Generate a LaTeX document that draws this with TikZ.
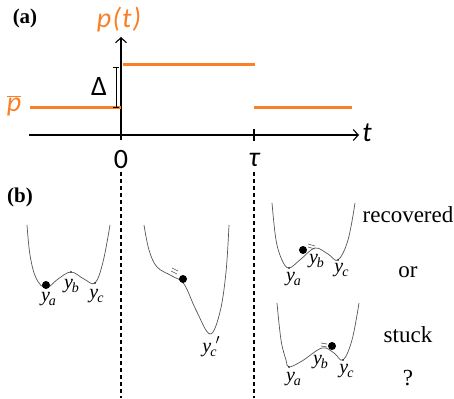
\documentclass[tikz,border=0pt]{standalone}
\usepackage{fontspec}
\setmainfont{Liberation Serif}
\newfontfamily\calfont{Carlito}
\usetikzlibrary{arrows.meta}

\definecolor{porange}{RGB}{250,128,40}
\definecolor{wellgray}{RGB}{85,85,85}

\newcommand\ylab[2][]{\textit{y}\kern-1pt\raisebox{-0.4ex}{\fontsize{14}{14}\selectfont\textit{#2}}\kern-1pt\raisebox{0.9ex}{\fontsize{14}{14}\selectfont#1}}

\begin{document}
\begin{tikzpicture}[
  x=1pt, y=-1pt,
  taxis/.style={line width=1.1pt, -{Straight Barb[length=5pt, width=11pt]}},
  plevel/.style={porange, line width=3pt},
  guide/.style={line width=1.1pt, dash pattern=on 4pt off 3pt},
  well/.style={wellgray, line width=0.7pt},
  ball/.style={circle, fill=black, inner sep=0pt, minimum size=8pt},
  extr/.style={circle, fill=black, inner sep=0pt, minimum size=1.8pt},
  motion/.style={wellgray, line width=0.6pt},
  panel/.style={font=\fontsize{21}{21}\selectfont\bfseries},
  sflab/.style={font=\fontsize{28}{28}\selectfont\calfont},
  ylb/.style={font=\fontsize{20}{20}\selectfont, inner sep=0pt},
  fate/.style={font=\fontsize{23}{23}\selectfont},
]
\useasboundingbox (0,0) rectangle (454,398);

%% ═══ (a) pulse ═══════════════════════════════════════════════
\node[panel] (pa) at (25,18) {(a)};

\coordinate (tleft) at (29,135);
\coordinate (tend)  at (359,135);
\coordinate (pbot)  at (121,140);
\coordinate (ptop)  at (121,37);
\draw[taxis] (tleft) -- (tend);
\draw[taxis] (pbot) -- (ptop);

\node[sflab, porange] (plab) at (119,20) {\itshape p\kern1.5pt(\kern1pt t\kern1pt)};
\node[sflab, porange] (pbar) at (14,106) {$\overline{\mbox{\itshape p}}$};
\node[sflab] (tlab) at (367,133) {\itshape t};

% orange levels
\coordinate (lowL)  at (30,108);
\coordinate (lowR)  at (121,108);
\coordinate (highL) at (123,65);
\coordinate (highR) at (255,65);
\coordinate (backL) at (254,108);
\coordinate (backR) at (352,108);
\draw[plevel] (lowL) -- (lowR);
\draw[plevel] (highL) -- (highR);
\draw[plevel] (backL) -- (backR);

% jump size
\coordinate (dtop) at (116,67);
\coordinate (dbot) at (116,108);
\draw[line width=1pt, {Bar[width=6pt]}-{Bar[width=6pt]}] (dtop) -- (dbot);
\node[sflab] (dlab) at (99,87) {Δ};

% ticks
\coordinate (tautop) at (254,129);
\coordinate (taubot) at (254,141);
\draw[line width=1.1pt] (tautop) -- (taubot);
\node[sflab] (zero) at (121,160) {0};
\node[sflab] (tau)  at (254,160) {\itshape τ};

% time guides
\coordinate (g0a) at (121,172);
\coordinate (g0b) at (121,398);
\coordinate (g1a) at (254,172);
\coordinate (g1b) at (254,398);
\draw[guide] (g0a) -- (g0b);
\draw[guide] (g1a) -- (g1b);

%% ═══ (b) landscapes ══════════════════════════════════════════
\node[panel] (pb) at (20,197) {(b)};

% before the pulse
\draw[well] plot[smooth, tension=0.6] coordinates
  {(27,225) (30,255) (36,278) (46,288) (58,279) (71,272) (84,279) (95,283) (103,262) (110,225)};
\node[extr] at (71,272) {};
\node[extr] at (95,283) {};
\node[ball] (b1) at (46,285) {};
\node[ylb] (ya1) at (48,299) {\ylab{a}};
\node[ylb] (yb1) at (71,286) {\ylab{b}};
\node[ylb] (yc1) at (96,296) {\ylab{c}};

% during the pulse
\draw[well] plot[smooth, tension=0.6] coordinates
  {(144,225) (149,250) (157,267) (172,276) (184,284) (196,310) (210,334) (220,312) (226,272) (229,225)};
\node[ball] (b2) at (183,279) {};
\draw[motion] (172,268) -- (178,271);
\draw[motion] (171,271) -- (177,274);
\node[ylb] (yc2) at (211,347) {\ylab[$\prime$]{c}};

% after: recovered
\draw[well] plot[smooth, tension=0.6] coordinates
  {(272,203) (276,240) (282,260) (289,268) (301,259) (315,248) (328,254) (338,260) (348,240) (355,203)};
\node[extr] at (289,268) {};
\node[extr] at (338,260) {};
\node[ball] (b3) at (303,250) {};
\draw[motion] (308,244) -- (315,246);
\draw[motion] (308,247) -- (315,249);
\node[ylb] (ya3) at (293,279) {\ylab{a}};
\node[ylb] (yb3) at (316,261) {\ylab{b}};
\node[ylb] (yc3) at (341,270) {\ylab{c}};

% after: stuck
\draw[well] plot[smooth, tension=0.6] coordinates
  {(277,303) (281,340) (286,360) (289,367) (302,361) (322,348) (334,353) (343,360) (352,340) (359,303)};
\node[extr] at (289,367) {};
\node[extr] at (343,360) {};
\node[ball] (b4) at (332,346) {};
\draw[motion] (321,343) -- (327,344);
\draw[motion] (321,346) -- (327,347);
\node[ylb] (ya4) at (293,379) {\ylab{a}};
\node[ylb] (yb4) at (320,362) {\ylab{b}};
\node[ylb] (yc4) at (346,371) {\ylab{c}};

% outcomes
\node[fate] (rec)   at (408,215) {recovered};
\node[fate] (or)    at (408,272) {or};
\node[fate] (stuck) at (408,335) {stuck};
\node[fate] (ask)   at (408,378) {?};

\end{tikzpicture}
\end{document}
